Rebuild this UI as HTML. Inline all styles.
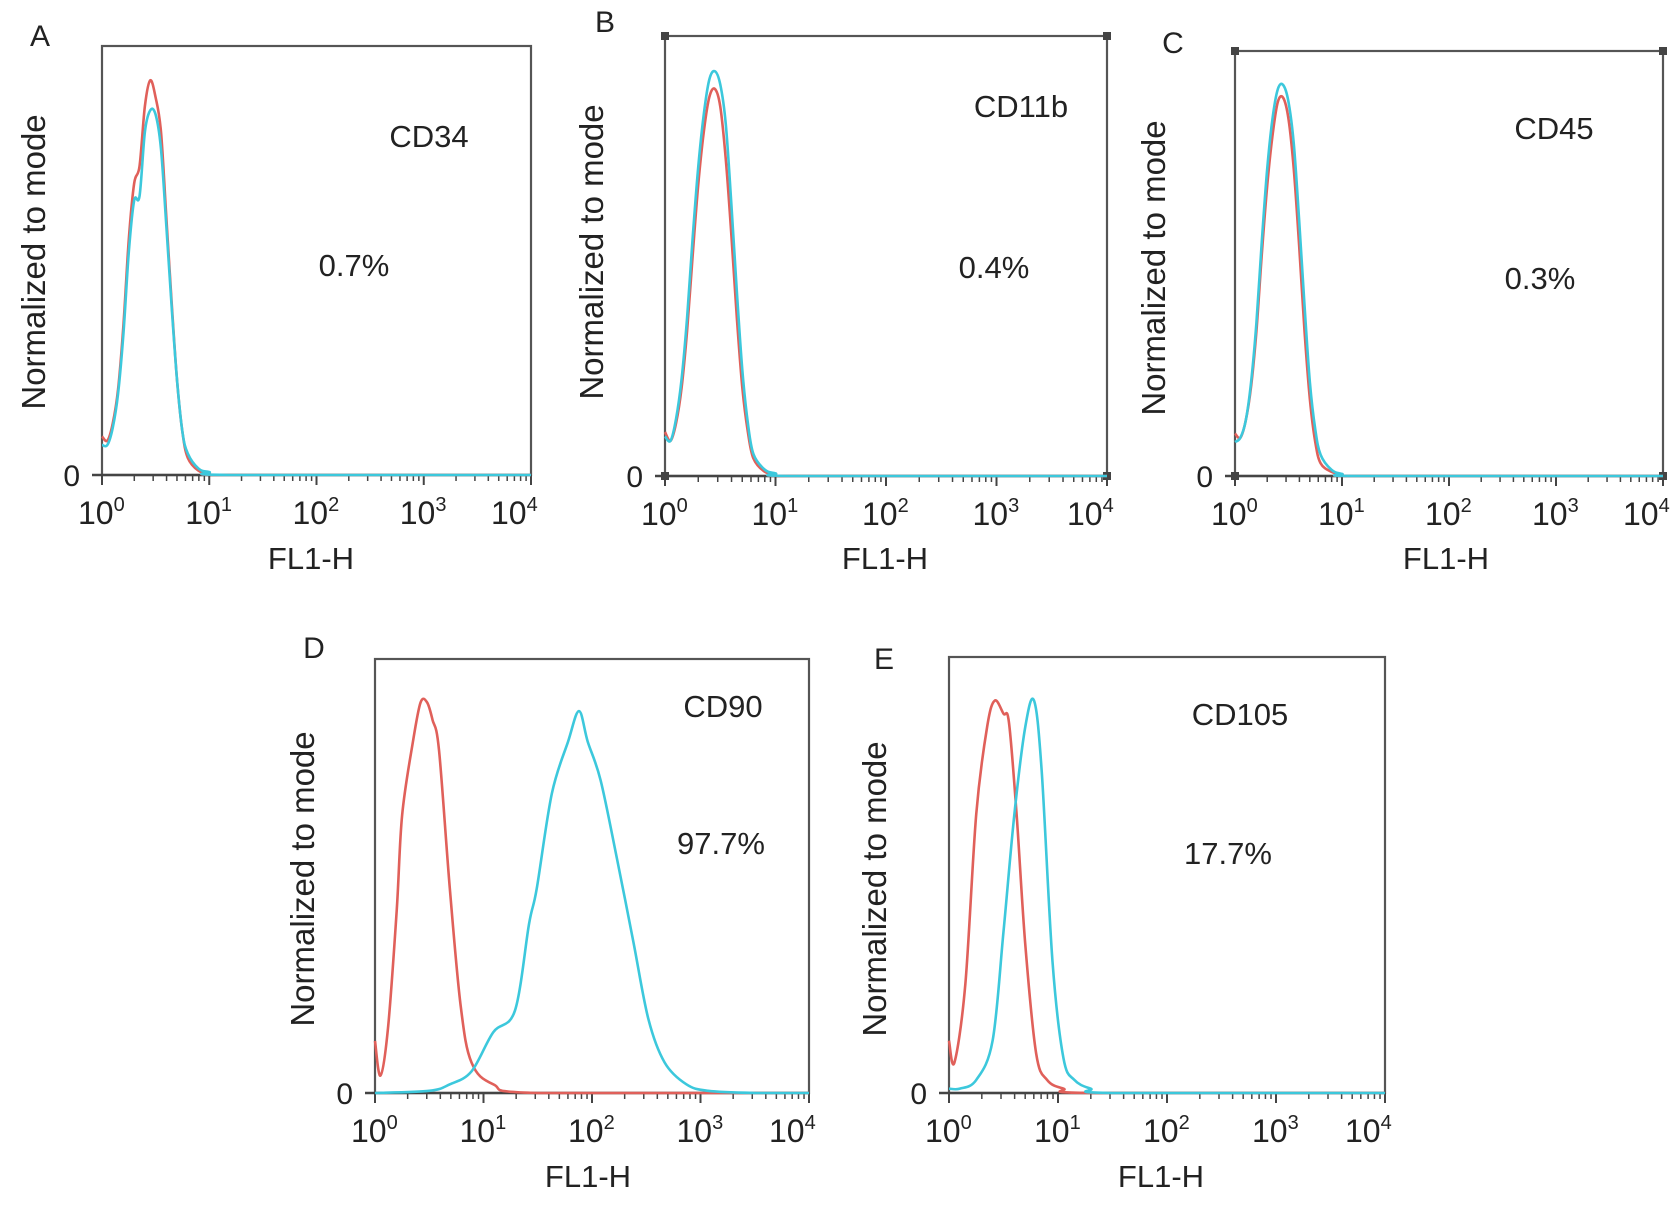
<!DOCTYPE html>
<html><head><meta charset="utf-8"><style>
html,body{margin:0;padding:0;background:#fff}
svg{display:block}
text{font-family:"Liberation Sans",Arial,sans-serif;fill:#222}
</style></head><body>
<svg id="fig" width="1680" height="1205" viewBox="0 0 1680 1205"></svg>
<script>
// Panel data (x in log10 FL1-H units, y as fraction of mode)
const tickLabels = ["10","10","10","10","10"];
const tickExps = ["0","1","2","3","4"];
const markerNames = ["CD34","CD11b","CD45","CD90","CD105"];
const percentLabels = ["0.7%","0.4%","0.3%","97.7%","17.7%"];
const panelLetters = ["A","B","C","D","E"];

const aX = [0,0.05,0.1,0.15,0.2,0.25,0.3,0.35,0.4,0.45,0.5,0.55,0.6,0.65,0.7,0.75,0.8,0.9,1.0,1.2,4.0];
const aRed = [0.09,0.08,0.12,0.2,0.35,0.55,0.68,0.72,0.86,0.92,0.88,0.8,0.6,0.4,0.22,0.1,0.04,0.01,0.005,0,0];
const aCyan = [0.07,0.07,0.11,0.19,0.33,0.52,0.64,0.65,0.8,0.85,0.84,0.76,0.58,0.39,0.22,0.1,0.05,0.015,0.007,0,0];

const bX = [0,0.05,0.1,0.15,0.2,0.25,0.3,0.35,0.4,0.45,0.5,0.55,0.6,0.65,0.7,0.75,0.8,0.9,1.0,1.2,4.0];
const bRed = [0.1,0.08,0.12,0.2,0.33,0.5,0.66,0.78,0.86,0.88,0.84,0.72,0.55,0.36,0.2,0.1,0.04,0.01,0.005,0,0];
const bCyan = [0.09,0.08,0.13,0.22,0.36,0.54,0.7,0.82,0.9,0.92,0.89,0.8,0.62,0.42,0.24,0.12,0.05,0.015,0.006,0,0];

const cX = [0,0.05,0.1,0.15,0.2,0.25,0.3,0.35,0.4,0.45,0.5,0.55,0.6,0.65,0.7,0.75,0.8,0.9,1.0,1.2,4.0];
const cRed = [0.1,0.09,0.13,0.21,0.34,0.52,0.68,0.8,0.88,0.89,0.84,0.72,0.54,0.34,0.18,0.08,0.03,0.01,0.004,0,0];
const cCyan = [0.08,0.09,0.13,0.22,0.36,0.55,0.72,0.84,0.91,0.92,0.88,0.78,0.6,0.4,0.22,0.11,0.05,0.015,0.005,0,0];

const dXRed = [0,0.05,0.12,0.2,0.25,0.35,0.42,0.48,0.53,0.59,0.69,0.79,0.89,1.09,1.5,4.0];
const dRed = [0.12,0.04,0.15,0.42,0.64,0.81,0.9,0.9,0.86,0.79,0.47,0.2,0.07,0.02,0,0];
const dXCyan = [0,0.5,0.69,0.89,1.09,1.29,1.42,1.49,1.63,1.78,1.88,1.96,2.08,2.23,2.38,2.52,2.67,2.87,3.07,3.5,4.0];
const dCyan = [0,0.005,0.02,0.05,0.14,0.19,0.39,0.47,0.69,0.81,0.88,0.81,0.72,0.54,0.35,0.17,0.07,0.02,0.005,0,0];

const eXRed = [0,0.05,0.15,0.25,0.35,0.42,0.5,0.55,0.62,0.7,0.8,0.9,1.05,1.3,4.0];
const eRed = [0.12,0.07,0.25,0.64,0.84,0.9,0.87,0.85,0.64,0.34,0.09,0.03,0.01,0,0];
const eXCyan = [0,0.1,0.25,0.4,0.5,0.6,0.7,0.78,0.85,0.95,1.05,1.15,1.3,1.5,4.0];
const eCyan = [0.01,0.01,0.03,0.12,0.37,0.64,0.84,0.9,0.74,0.3,0.08,0.03,0.01,0,0];

const NS = "http://www.w3.org/2000/svg";
const svg = document.getElementById("fig");
function mk(tag, attrs, parent){ const e=document.createElementNS(NS,tag); for(const k in attrs) e.setAttribute(k,attrs[k]); (parent||svg).appendChild(e); return e; }

const panels = [
 {L:102,R:531,T:46,B:475, letter:[40,46], name:[429,147], pct:[354,276], ylab:[34,262], fl:[311,569], xs:[aX,aX], ys:[aRed,aCyan], corners:false},
 {L:665,R:1107,T:36,B:476, letter:[605,32], name:[1021,117], pct:[994,278], ylab:[592,252], fl:[885,569], xs:[bX,bX], ys:[bRed,bCyan], corners:true},
 {L:1235,R:1663,T:51,B:476, letter:[1173,53], name:[1554,139], pct:[1540,289], ylab:[1154,268], fl:[1446,569], xs:[cX,cX], ys:[cRed,cCyan], corners:true},
 {L:375,R:809,T:659,B:1093, letter:[314,658], name:[723,717], pct:[721,854], ylab:[303,879], fl:[588,1187], xs:[dXRed,dXCyan], ys:[dRed,dCyan], corners:false},
 {L:949,R:1385,T:657,B:1093, letter:[884,669], name:[1240,725], pct:[1228,864], ylab:[875,889], fl:[1161,1187], xs:[eXRed,eXCyan], ys:[eRed,eCyan], corners:false}
];
const colors = ["#e0605a","#3cc8dc"];

panels.forEach((p,i)=>{
  const g = mk("g",{});
  
  
  const xScale = v => p.L + (v/4)*(p.R-p.L);
  const yScale = v => p.B - v*(p.B-p.T);
  const frame = mk("rect",{x:p.L,y:p.T,width:p.R-p.L,height:p.B-p.T,fill:"none",stroke:"#555","stroke-width":2.2},g);
  
  
  if(p.corners){
    [[p.L,p.T],[p.R,p.T],[p.L,p.B],[p.R,p.B]].forEach(c=>{
      const m = mk("rect",{x:c[0]-4,y:c[1]-4,width:8,height:8,fill:"#444"},g);
      
      
    });
  }
  const ax = mk("line",{x1:p.L-10,y1:p.B,x2:p.R,y2:p.B,stroke:"#444","stroke-width":2.5},g);
  
  
  for(let d=0; d<=4; d++){
    const x = xScale(d);
    const t = mk("line",{x1:x,y1:p.B,x2:x,y2:p.B+10,stroke:"#444","stroke-width":2},g);
    
    
    const lbl = mk("text",{x:(d==4? x-40 : x-24),y:p.B+49,"font-size":32},g);
    
    
    lbl.textContent = tickLabels[d];
    const sup = mk("tspan",{dy:-13,"font-size":20},lbl);
    sup.textContent = tickExps[d];
    if(d<4){
      for(let m=2;m<=9;m++){
        const xm = xScale(d+Math.log10(m));
        const mt = mk("line",{x1:xm,y1:p.B,x2:xm,y2:p.B+6,stroke:"#444","stroke-width":1.5},g);
        
        
      }
    }
  }
  const zero = mk("text",{x:p.L-22,y:p.B+11,"font-size":30,"text-anchor":"end"},g);
  
  
  zero.textContent = "0";
  const yl = mk("text",{x:p.ylab[0],y:p.ylab[1],"font-size":33,"text-anchor":"middle",transform:`rotate(-90 ${p.ylab[0]} ${p.ylab[1]})`,dy:11},g);
  
  
  yl.textContent = "Normalized to mode";
  const xl = mk("text",{x:p.fl[0],y:p.fl[1],"font-size":31,"text-anchor":"middle"},g);
  
  
  xl.textContent = "FL1-H";
  const lt = mk("text",{x:p.letter[0],y:p.letter[1],"font-size":30,"text-anchor":"middle"},g);
  
  
  lt.textContent = panelLetters[i];
  const nm = mk("text",{x:p.name[0],y:p.name[1],"font-size":31,"text-anchor":"middle"},g);
  
  
  nm.textContent = markerNames[i];
  const pc = mk("text",{x:p.pct[0],y:p.pct[1],"font-size":31,"text-anchor":"middle"},g);
  
  
  pc.textContent = percentLabels[i];
  [0,1].forEach(s=>{
    const xs=p.xs[s], ys=p.ys[s];
    const pts=[]; for(let k=0;k<xs.length;k++) pts.push([xScale(xs[k]),yScale(ys[k])]);
    let d="M"+pts[0][0]+","+pts[0][1];
    for(let k=0;k<pts.length-1;k++){
      const p0=pts[Math.max(0,k-1)],p1=pts[k],p2=pts[k+1],p3=pts[Math.min(pts.length-1,k+2)];
      const c1=[p1[0]+(p2[0]-p0[0])/6,p1[1]+(p2[1]-p0[1])/6];
      const c2=[p2[0]-(p3[0]-p1[0])/6,p2[1]-(p3[1]-p1[1])/6];
      c1[1]=Math.min(c1[1],p.B); c2[1]=Math.min(c2[1],p.B);
      d+=` C${c1[0]},${c1[1]} ${c2[0]},${c2[1]} ${p2[0]},${p2[1]}`;
    }
    const path = mk("path",{d:d,fill:"none",stroke:colors[s],"stroke-width":2.6},g);
    
    
  });
});
</script>
</body></html>
